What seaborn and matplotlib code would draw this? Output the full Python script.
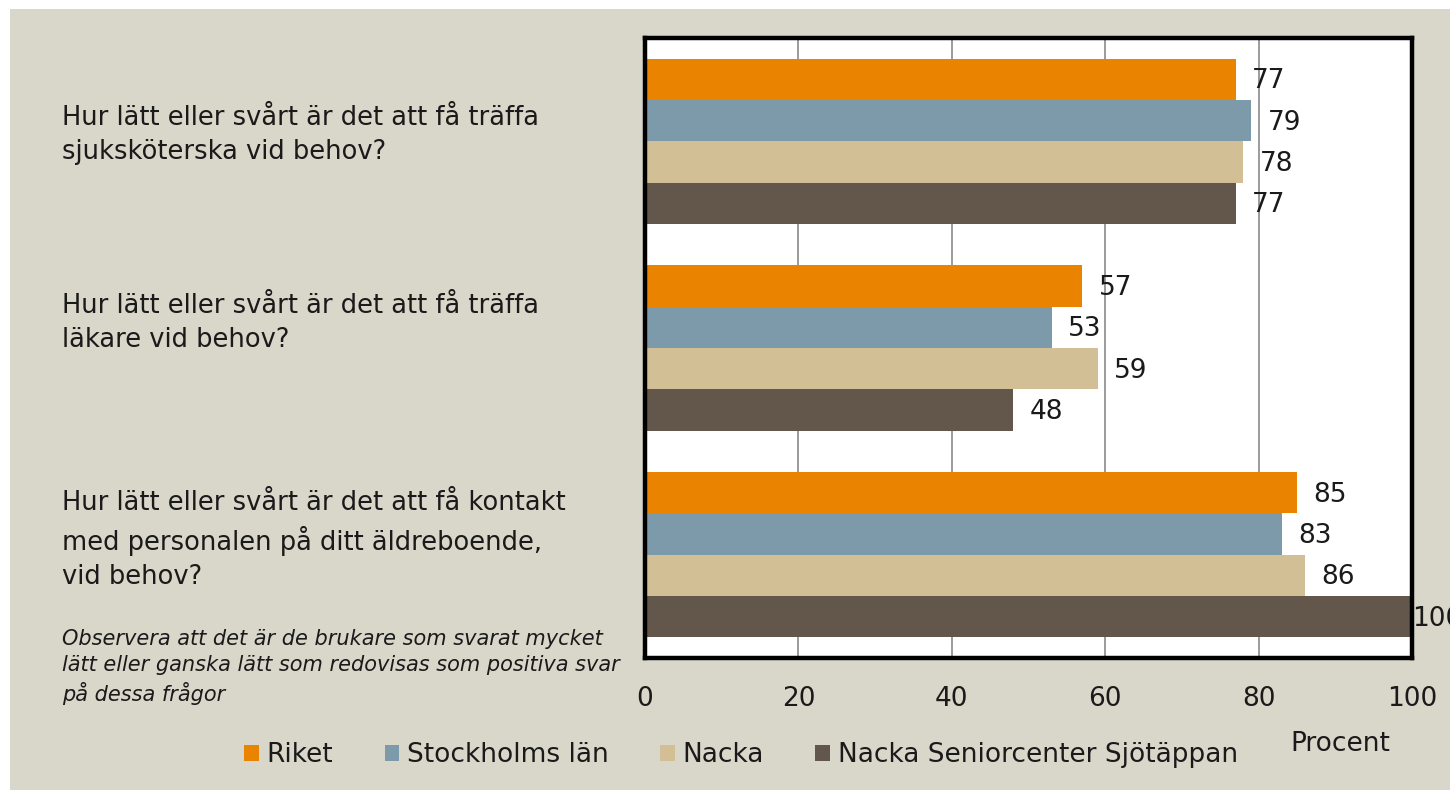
import pandas as pd
import matplotlib
matplotlib.use("Agg")
import matplotlib.pyplot as plt
import seaborn as sns
from matplotlib.patches import Rectangle
from matplotlib.transforms import blended_transform_factory

BG = "#D9D6CA"
TXT = "#1a1a1a"
FS = 19

questions = [
    "Hur lätt eller svårt är det att få träffa\nsjuksköterska vid behov?",
    "Hur lätt eller svårt är det att få träffa\nläkare vid behov?",
    "Hur lätt eller svårt är det att få kontakt\nmed personalen på ditt äldreboende,\nvid behov?",
]
groups = ["Riket", "Stockholms län", "Nacka", "Nacka Seniorcenter Sjötäppan"]
colors = ["#E98300", "#7D9AAA", "#D3BF96", "#63564A"]

riket = [77, 57, 85]
stockholm = [79, 53, 83]
nacka = [78, 59, 86]
sjotappan = [77, 48, 100]

note = ("Observera att det är de brukare som svarat mycket\n"
        "lätt eller ganska lätt som redovisas som positiva svar\n"
        "på dessa frågor")

# question labels sit a little above the bar group centres
label_shift = [-0.03, -0.12, -0.07]

rows = []
for g, vals in zip(groups, [riket, stockholm, nacka, sjotappan]):
    for i, v in enumerate(vals):
        rows.append({"fraga": i, "grupp": g, "procent": v})
df = pd.DataFrame(rows)

sns.set_style("white")
plt.rcParams["font.family"] = ["DejaVu Sans"]

fig = plt.figure(figsize=(14.5, 7.9), dpi=100)
fig.patches.append(Rectangle((10 / 1450, 0), 1, 1 - 9 / 790, transform=fig.transFigure,
                             facecolor=BG, edgecolor="none", zorder=-5))
ax = fig.add_axes([645 / 1450, 1 - 658 / 790, 767 / 1450, 620 / 790])
ax.set_facecolor("white")

sns.barplot(data=df, x="procent", y="fraga", hue="grupp", hue_order=groups,
            palette=colors, orient="h", width=0.8, saturation=1,
            linewidth=0, ax=ax)

ax.set_xlim(0, 100)
ax.set_xticks([0, 20, 40, 60, 80, 100])
ax.tick_params(axis="x", length=0, pad=20, labelsize=FS, labelcolor=TXT)
ax.set_yticks([])
ax.set_ylabel("")
ax.set_xlabel("Procent", fontsize=FS, color=TXT)
ax.xaxis.set_label_coords((1340 - 645) / 767, -0.118)

ax.set_axisbelow(True)
for x in [20, 40, 60, 80]:
    ax.axvline(x, color="#8A8A8A", linewidth=1.2, zorder=0)
for s in ax.spines.values():
    s.set_visible(True)
    s.set_color("black")
    s.set_linewidth(3.2)
    s.set_zorder(5)

for cont in ax.containers:
    anns = ax.bar_label(cont, padding=12, fontsize=FS, color=TXT, clip_on=False)
    for a in anns:
        a.xyann = (a.xyann[0], a.xyann[1] - 1.5)
        if a.get_text() == "100":
            a.xyann = (0, a.xyann[1])

trans = blended_transform_factory(ax.transAxes, ax.transData)
for i, q in enumerate(questions):
    ax.text(-583 / 767, i + label_shift[i], q, transform=trans, ha="left", va="center",
            fontsize=18.5, color=TXT, linespacing=1.4)

fig.text(62 / 1450, 1 - 667 / 790, note, ha="left", va="center", fontsize=15,
         style="italic", color=TXT, linespacing=1.35)

handles, labels = ax.get_legend_handles_labels()
ax.get_legend().remove()
fig.legend(handles, labels, loc="center", bbox_to_anchor=(741 / 1450, 1 - 755 / 790),
           ncol=4, frameon=False, fontsize=FS, handlelength=0.55, handleheight=0.55,
           handletextpad=0.3, columnspacing=1.95, labelcolor=TXT)

fig.savefig("out.png", dpi=100, facecolor="white")
